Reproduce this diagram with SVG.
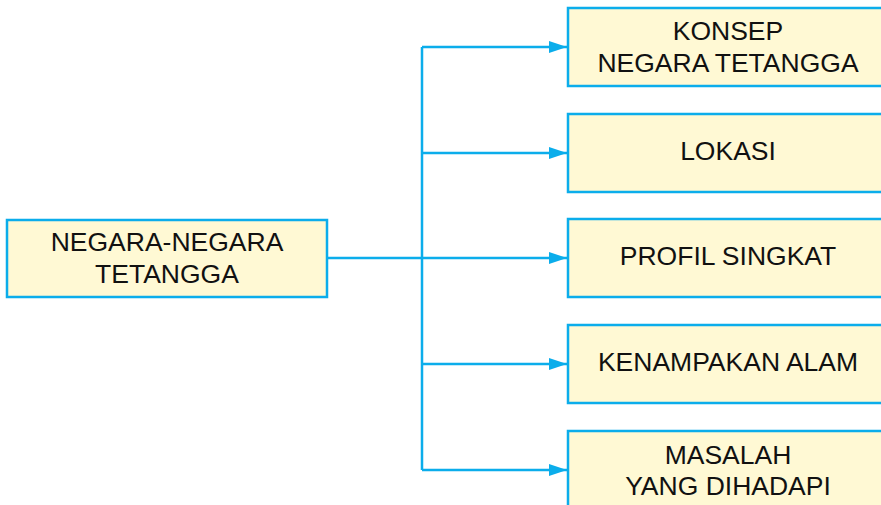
<svg xmlns="http://www.w3.org/2000/svg" width="881" height="505" viewBox="0 0 881 505">
<style>
.box{fill:#FFF9D4;stroke:#0BADEB;stroke-width:2.5}
.t{font-family:"Liberation Sans",Arial,sans-serif;font-size:26.5px;fill:#111;text-anchor:middle}
.c{fill:none;stroke:#0BADEB;stroke-width:2.5}
</style>
<defs>
<marker id="ah" markerWidth="18" markerHeight="12" refX="18" refY="6" orient="auto" markerUnits="userSpaceOnUse">
<path d="M0,0 L18,6 L0,12 Z" fill="#0BADEB"/>
</marker>
</defs>
<rect width="881" height="505" fill="#fff"/>
<g id="connectors">
<path class="c" d="M327,258 H422"/>
<path class="c" d="M422,47 V470"/>
<path class="c" d="M422,47 H567" marker-end="url(#ah)"/>
<path class="c" d="M422,153 H567" marker-end="url(#ah)"/>
<path class="c" d="M422,258 H567" marker-end="url(#ah)"/>
<path class="c" d="M422,364 H567" marker-end="url(#ah)"/>
<path class="c" d="M422,470 H567" marker-end="url(#ah)"/>
</g>
<g id="root">
<rect class="box" x="7" y="220" width="320" height="77"/>
<text class="t" x="167" y="251">NEGARA-NEGARA</text>
<text class="t" x="167" y="283">TETANGGA</text>
</g>
<g id="konsep">
<rect class="box" x="568" y="8" width="320" height="78"/>
<text class="t" x="728" y="40">KONSEP</text>
<text class="t" x="728" y="72">NEGARA TETANGGA</text>
</g>
<g id="lokasi">
<rect class="box" x="568" y="114" width="320" height="78"/>
<text class="t" x="728" y="160">LOKASI</text>
</g>
<g id="profil">
<rect class="box" x="568" y="219" width="320" height="78"/>
<text class="t" x="728" y="265">PROFIL SINGKAT</text>
</g>
<g id="kenampakan">
<rect class="box" x="568" y="325" width="320" height="78"/>
<text class="t" x="728" y="371">KENAMPAKAN ALAM</text>
</g>
<g id="masalah">
<rect class="box" x="568" y="431" width="320" height="78"/>
<text class="t" x="728" y="464">MASALAH</text>
<text class="t" x="728" y="495">YANG DIHADAPI</text>
</g>
</svg>
